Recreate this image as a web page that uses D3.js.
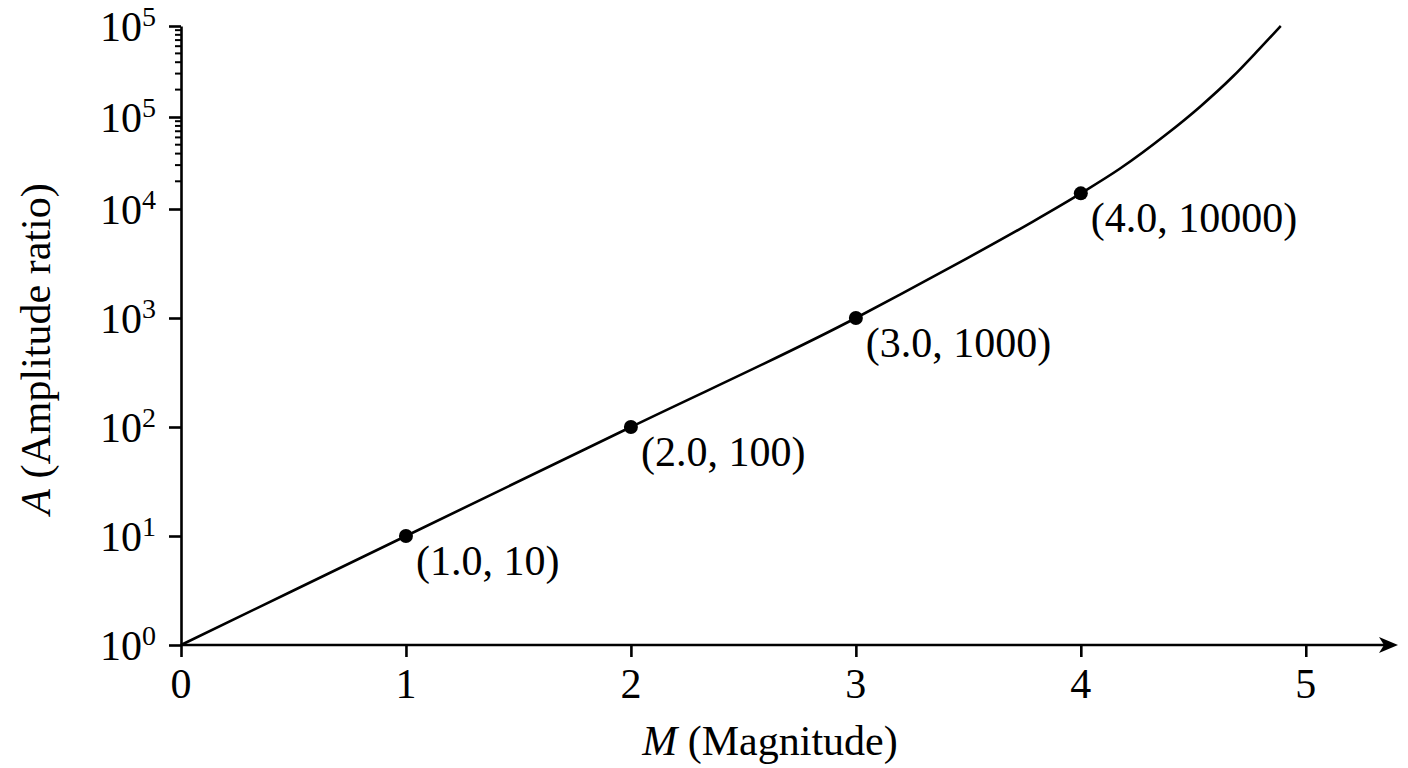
<!DOCTYPE html>
<html>
<head>
<meta charset="utf-8">
<script src="https://cdn.jsdelivr.net/npm/d3@7"></script>
<style>
  html, body { margin: 0; padding: 0; background: #fff; }
  text { font-family: "Liberation Serif", "DejaVu Serif", serif; fill: #000; }
</style>
</head>
<body>
<svg id="chart" width="1408" height="768"></svg>
<script>
// magnitude vs amplitude ratio
const xTicks = [0, 1, 2, 3, 4, 5];
const yTickLevels = [0, 1, 2, 3, 4, 5, 6];
const yTickExps = ["0", "1", "2", "3", "4", "5", "5"];
const minorDecades = [4, 5];

const curveM = [0, 1, 2, 3, 3.196, 3.492, 3.787, 4.0, 4.173, 4.382, 4.529, 4.676, 4.796, 4.889];
const curveLevel = [0, 1, 2, 3, 3.215, 3.545, 3.885, 4.17, 4.437, 4.815, 5.111, 5.445, 5.754, 6.0];

const pointM = [1, 2, 3, 4];
const pointLevel = [1, 2, 3, 4.17];
const pointLabels = ["(1.0, 10)", "(2.0, 100)", "(3.0, 1000)", "(4.0, 10000)"];

const svg = d3.select("#chart");
const FONT = 42;

const x = d3.scaleLinear().domain([0, 5.41]).range([181, 1398]);
// the axis is not uniform above 10^4, so the scale is piecewise
const y = d3.scaleLinear().domain(yTickLevels).range([645, 536, 427, 318, 209, 117, 26]);

// x axis
const xAxis = svg.append("g")
  .attr("transform", `translate(0,${y(0)})`)
  .call(d3.axisBottom(x).tickValues(xTicks).tickSize(12).tickSizeOuter(0).tickFormat(""));
xAxis.select(".domain").remove();
xAxis.selectAll(".tick line").attr("stroke", "#000").attr("stroke-width", 2.6);

const arrowTip = x(5.41);
svg.append("line")
  .attr("x1", x(0)).attr("x2", arrowTip - 10)
  .attr("y1", y(0)).attr("y2", y(0))
  .attr("stroke", "#000").attr("stroke-width", 2.6);
svg.append("path")
  .attr("d", `M${arrowTip},${y(0)} L${arrowTip - 19},${y(0) - 8} L${arrowTip - 14},${y(0)} L${arrowTip - 19},${y(0) + 8} Z`)
  .attr("fill", "#000");

svg.append("g").selectAll("text")
  .data(xTicks)
  .join("text")
  .attr("x", d => x(d))
  .attr("y", y(0) + 53)
  .attr("text-anchor", "middle")
  .attr("font-size", FONT)
  .text(d => d);

// y axis
const yAxis = svg.append("g")
  .attr("transform", `translate(${x(0)},0)`)
  .call(d3.axisLeft(y).tickValues(yTickLevels).tickSize(12).tickSizeOuter(0).tickFormat(""));
yAxis.select(".domain").attr("stroke", "#000").attr("stroke-width", 2.6);
yAxis.selectAll(".tick line").attr("stroke", "#000").attr("stroke-width", 2.6);

const minorLevels = minorDecades.flatMap(d => d3.range(2, 10).map(k => d + Math.log10(k)));
svg.append("g").selectAll("line")
  .data(minorLevels)
  .join("line")
  .attr("x1", x(0) - 6).attr("x2", x(0))
  .attr("y1", d => y(d)).attr("y2", d => y(d))
  .attr("stroke", "#000").attr("stroke-width", 2);

const yLabels = svg.append("g").selectAll("text")
  .data(yTickLevels)
  .join("text")
  .attr("x", 100)
  .attr("y", d => y(d) + 15)
  .attr("font-size", FONT);
yLabels.append("tspan").text("10");
yLabels.append("tspan")
  .attr("dy", -15)
  .attr("font-size", 28)
  .text((d, i) => yTickExps[i]);

// curve
const line = d3.line()
  .x(i => x(curveM[i]))
  .y(i => y(curveLevel[i]))
  .curve(d3.curveMonotoneX);
svg.append("path")
  .attr("d", line(d3.range(curveM.length)))
  .attr("fill", "none")
  .attr("stroke", "#000")
  .attr("stroke-width", 2.6);

// labelled points
const pts = svg.append("g");
pts.selectAll("circle")
  .data(pointM)
  .join("circle")
  .attr("cx", d => x(d))
  .attr("cy", (d, i) => y(pointLevel[i]))
  .attr("r", 7)
  .attr("fill", "#000");
pts.selectAll("text")
  .data(pointM)
  .join("text")
  .attr("x", d => x(d) + 10)
  .attr("y", (d, i) => y(pointLevel[i]) + 39)
  .attr("font-size", FONT)
  .text((d, i) => pointLabels[i]);

// axis titles
const xTitle = svg.append("text")
  .attr("x", 770).attr("y", 755)
  .attr("text-anchor", "middle")
  .attr("font-size", FONT);
xTitle.append("tspan").attr("font-style", "italic").text("M");
xTitle.append("tspan").text(" (Magnitude)");

const yTitle = svg.append("text")
  .attr("transform", "translate(50,349) rotate(-90)")
  .attr("text-anchor", "middle")
  .attr("font-size", FONT);
yTitle.append("tspan").attr("font-style", "italic").text("A");
yTitle.append("tspan").text(" (Amplitude ratio)");
</script>
</body>
</html>
